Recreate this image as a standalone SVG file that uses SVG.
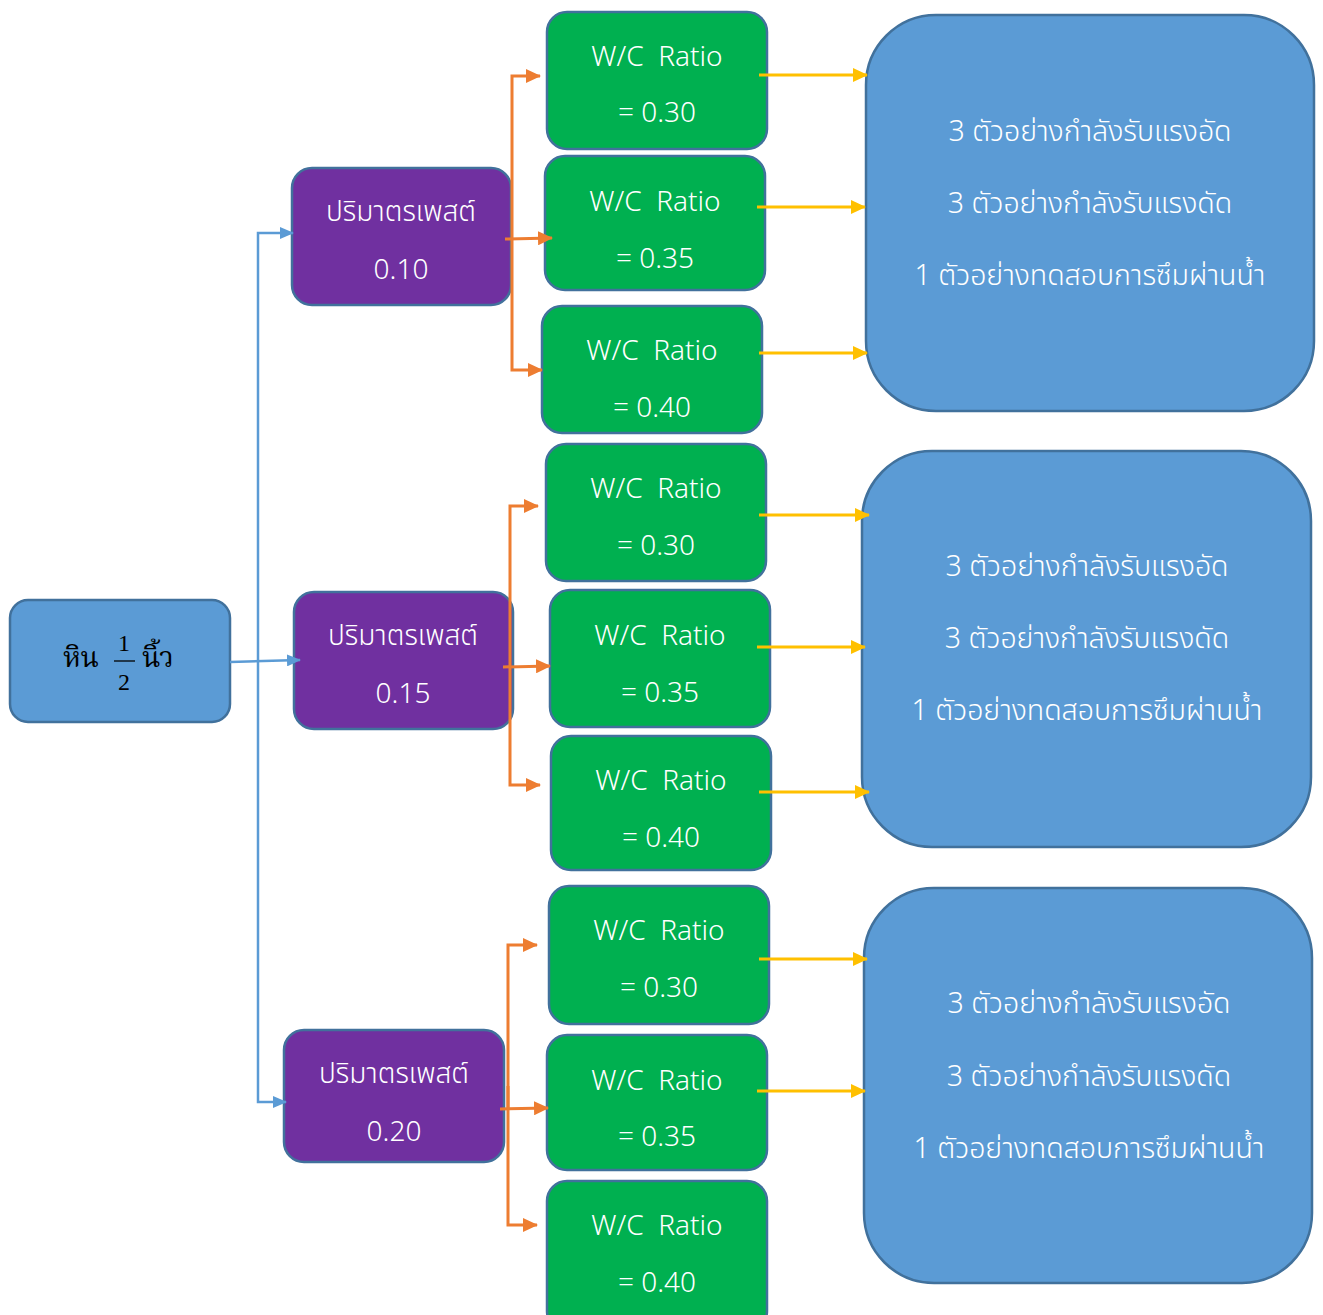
<svg xmlns="http://www.w3.org/2000/svg" width="1323" height="1315" viewBox="0 0 1323 1315">
<style>
.src{fill:#5B9BD5;stroke:#41719C;stroke-width:2.5}
.pur{fill:#7030A0;stroke:#41719C;stroke-width:2.5}
.grn{fill:#00B050;stroke:#41719C;stroke-width:2.5}
.big{fill:#5B9BD5;stroke:#41719C;stroke-width:2.5}
.t{fill:#ffffff;font-family:"Noto Sans Thai","Noto Sans","DejaVu Sans",sans-serif;font-size:28px;text-anchor:middle;font-weight:300}
.tb{fill:#ffffff;font-family:"Noto Sans Thai","Noto Sans","DejaVu Sans",sans-serif;font-size:28.5px;text-anchor:middle;font-weight:300}
.ts{fill:#000000;font-family:"Liberation Serif","Noto Serif Thai","Noto Sans Thai",serif;font-size:28px}
.cb{fill:none;stroke:#5B9BD5;stroke-width:2.5}
.co{fill:none;stroke:#ED7D31;stroke-width:3}
.cy{fill:none;stroke:#FFC000;stroke-width:3}
</style>
<defs>
<marker id="ab" markerWidth="14" markerHeight="12" refX="13" refY="6" orient="auto" markerUnits="userSpaceOnUse" viewBox="0 0 14 12"><path d="M0,0 L14,6 L0,12 z" fill="#5B9BD5"/></marker>
<marker id="ao" markerWidth="15" markerHeight="14" refX="14" refY="7" orient="auto" markerUnits="userSpaceOnUse" viewBox="0 0 15 14"><path d="M0,0 L15,7 L0,14 z" fill="#ED7D31"/></marker>
<marker id="ay" markerWidth="15" markerHeight="14" refX="14" refY="7" orient="auto" markerUnits="userSpaceOnUse" viewBox="0 0 15 14"><path d="M0,0 L15,7 L0,14 z" fill="#FFC000"/></marker>
</defs>

<g id="source">
<rect class="src" x="10" y="600" width="220" height="122" rx="18"/>
<text class="ts" x="63" y="667">หิน</text>
<text class="ts" x="124" y="651" text-anchor="middle" style="font-size:24px">1</text>
<line x1="114" y1="661" x2="135" y2="661" stroke="#000" stroke-width="1.3"/>
<text class="ts" x="124" y="690" text-anchor="middle" style="font-size:24px">2</text>
<text class="ts" x="142" y="667">นิ้ว</text>
</g>

<g id="paste010">
<rect class="pur" x="292" y="168" width="219" height="137" rx="20"/>
<text class="t" x="401" y="221">ปริมาตรเพสต์</text>
<text class="t" x="401" y="279">0.10</text>
</g>
<g id="paste015">
<rect class="pur" x="294" y="592" width="219" height="137" rx="20"/>
<text class="t" x="403" y="645">ปริมาตรเพสต์</text>
<text class="t" x="403" y="703">0.15</text>
</g>
<g id="paste020">
<rect class="pur" x="284" y="1030" width="220" height="132" rx="20"/>
<text class="t" x="394" y="1083">ปริมาตรเพสต์</text>
<text class="t" x="394" y="1141">0.20</text>
</g>

<g id="wc1">
<rect class="grn" x="547" y="12" width="220" height="137" rx="20"/>
<text class="t" x="657" y="66" xml:space="preserve">W/C  Ratio</text>
<text class="t" x="657" y="122">= 0.30</text>
</g>
<g id="wc2">
<rect class="grn" x="545" y="156" width="220" height="134" rx="20"/>
<text class="t" x="655" y="211" xml:space="preserve">W/C  Ratio</text>
<text class="t" x="655" y="268">= 0.35</text>
</g>
<g id="wc3">
<rect class="grn" x="542" y="306" width="220" height="127" rx="20"/>
<text class="t" x="652" y="360" xml:space="preserve">W/C  Ratio</text>
<text class="t" x="652" y="417">= 0.40</text>
</g>
<g id="wc4">
<rect class="grn" x="546" y="444" width="220" height="137" rx="20"/>
<text class="t" x="656" y="498" xml:space="preserve">W/C  Ratio</text>
<text class="t" x="656" y="555">= 0.30</text>
</g>
<g id="wc5">
<rect class="grn" x="550" y="590" width="220" height="137" rx="20"/>
<text class="t" x="660" y="645" xml:space="preserve">W/C  Ratio</text>
<text class="t" x="660" y="702">= 0.35</text>
</g>
<g id="wc6">
<rect class="grn" x="551" y="736" width="220" height="134" rx="20"/>
<text class="t" x="661" y="790" xml:space="preserve">W/C  Ratio</text>
<text class="t" x="661" y="847">= 0.40</text>
</g>
<g id="wc7">
<rect class="grn" x="549" y="886" width="220" height="138" rx="20"/>
<text class="t" x="659" y="940" xml:space="preserve">W/C  Ratio</text>
<text class="t" x="659" y="997">= 0.30</text>
</g>
<g id="wc8">
<rect class="grn" x="547" y="1035" width="220" height="135" rx="20"/>
<text class="t" x="657" y="1090" xml:space="preserve">W/C  Ratio</text>
<text class="t" x="657" y="1146">= 0.35</text>
</g>
<g id="wc9">
<rect class="grn" x="547" y="1181" width="220" height="150" rx="20"/>
<text class="t" x="657" y="1235" xml:space="preserve">W/C  Ratio</text>
<text class="t" x="657" y="1292">= 0.40</text>
</g>

<g id="tests1">
<rect class="big" x="866" y="15" width="448" height="396" rx="70"/>
<text class="tb" x="1090" y="141">3 ตัวอย่างกำลังรับแรงอัด</text>
<text class="tb" x="1090" y="213">3 ตัวอย่างกำลังรับแรงดัด</text>
<text class="tb" x="1090" y="285">1 ตัวอย่างทดสอบการซึมผ่านน้ำ</text>
</g>
<g id="tests2">
<rect class="big" x="862" y="451" width="449" height="396" rx="70"/>
<text class="tb" x="1087" y="576">3 ตัวอย่างกำลังรับแรงอัด</text>
<text class="tb" x="1087" y="648">3 ตัวอย่างกำลังรับแรงดัด</text>
<text class="tb" x="1087" y="720">1 ตัวอย่างทดสอบการซึมผ่านน้ำ</text>
</g>
<g id="tests3">
<rect class="big" x="864" y="888" width="448" height="395" rx="70"/>
<text class="tb" x="1089" y="1013">3 ตัวอย่างกำลังรับแรงอัด</text>
<text class="tb" x="1089" y="1086">3 ตัวอย่างกำลังรับแรงดัด</text>
<text class="tb" x="1089" y="1158">1 ตัวอย่างทดสอบการซึมผ่านน้ำ</text>
</g>

<g id="connectors">
<path class="cb" d="M230,662 L300,660" marker-end="url(#ab)"/>
<path class="cb" d="M258,662 L258,233 L293,233" marker-end="url(#ab)"/>
<path class="cb" d="M258,662 L258,1102 L286,1102" marker-end="url(#ab)"/>

<path class="co" d="M512,239 L512,76 L540,76" marker-end="url(#ao)"/>
<path class="co" d="M505,239 L552,238" marker-end="url(#ao)"/>
<path class="co" d="M512,239 L512,370 L542,370" marker-end="url(#ao)"/>

<path class="co" d="M510,666 L510,506 L538,506" marker-end="url(#ao)"/>
<path class="co" d="M503,667 L550,666" marker-end="url(#ao)"/>
<path class="co" d="M510,666 L510,785 L540,785" marker-end="url(#ao)"/>

<path class="co" d="M508,1108 L508,945 L537,945" marker-end="url(#ao)"/>
<path class="co" d="M500,1109 L548,1108" marker-end="url(#ao)"/>
<path class="co" d="M508,1086 L508,1225 L537,1225" marker-end="url(#ao)"/>

<path class="cy" d="M759,75 L867,75" marker-end="url(#ay)"/>
<path class="cy" d="M757,207 L865,207" marker-end="url(#ay)"/>
<path class="cy" d="M759,353 L867,353" marker-end="url(#ay)"/>
<path class="cy" d="M759,515 L869,515" marker-end="url(#ay)"/>
<path class="cy" d="M757,647 L865,647" marker-end="url(#ay)"/>
<path class="cy" d="M759,792 L869,792" marker-end="url(#ay)"/>
<path class="cy" d="M759,959 L867,959" marker-end="url(#ay)"/>
<path class="cy" d="M757,1091 L865,1091" marker-end="url(#ay)"/>
</g>
</svg>
